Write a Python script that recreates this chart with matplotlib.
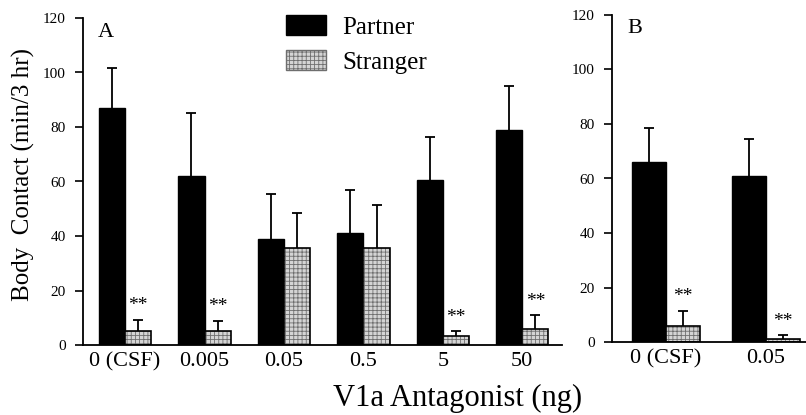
import numpy as np
import matplotlib
matplotlib.use("Agg")
import matplotlib.pyplot as plt
from matplotlib.patches import Patch

plt.rcParams['font.family'] = ['Liberation Serif', 'DejaVu Serif']
plt.rcParams['hatch.linewidth'] = 0.6

# panel A data
doses_a = ['0 (CSF)', '0.005', '0.05', '0.5', '5', '50']
partner_a = [87, 62, 39, 41, 60.5, 79]
partner_a_err = [14.5, 23, 16.5, 16, 16, 16]
stranger_a = [5, 5.2, 35.5, 35.5, 3.2, 6]
stranger_a_err = [4.3, 3.7, 12.8, 16, 1.8, 5]
sig_a = [True, True, False, False, True, True]

# panel B data
doses_b = ['0 (CSF)', '0.05']
partner_b = [66, 61]
partner_b_err = [12.5, 13.5]
stranger_b = [6, 1.2]
stranger_b_err = [5.5, 1.2]
sig_b = [True, True]

fig = plt.figure(figsize=(8.06, 4.15), dpi=100)
axA = fig.add_axes([83/806, 70/415, 479/806, 327/415])
axB = fig.add_axes([612/806, 73/415, 194/806, 327/415])

HATCH_FACE = '#d4d4d4'
HATCH_LINE = '#6e6e6e'


def up_err(ax, x, y, e):
    # only the upper half of the error bar, no cap at the bar top
    eb = ax.errorbar(x, y, yerr=[np.zeros(len(y)), e], fmt='none',
                     ecolor='black', elinewidth=1.3, capsize=3.5,
                     capthick=1.3)
    eb[1][0].set_visible(False)


def draw(ax, labels, p, pe, s, se, sig, w):
    x = np.arange(len(labels))
    ax.bar(x - w/2, p, w, color='black', edgecolor='black', linewidth=1)
    up_err(ax, x - w/2, p, pe)
    ax.bar(x + w/2, s, w, color=HATCH_FACE, edgecolor=HATCH_LINE,
           hatch='++++', linewidth=0)
    ax.bar(x + w/2, s, w, fill=False, edgecolor='black', linewidth=1.2)
    up_err(ax, x + w/2, s, se)
    for xi, si, ei, f in zip(x, s, se, sig):
        if f:
            ax.text(xi + w/2, si + ei + 2, '**', ha='center', va='bottom',
                    fontsize=14)
    ax.set_ylim(0, 120)
    ax.set_yticks(np.arange(0, 121, 20))
    ax.set_xticks(x)
    ax.set_xticklabels(labels, fontsize=16)
    ax.tick_params(axis='x', length=0, pad=5)
    ax.tick_params(axis='y', length=5.5, width=1.2, labelsize=11, pad=7)
    for sp in ['top', 'right']:
        ax.spines[sp].set_visible(False)
    for sp in ['left', 'bottom']:
        ax.spines[sp].set_linewidth(1.3)


draw(axA, doses_a, partner_a, partner_a_err, stranger_a, stranger_a_err,
     sig_a, 0.33)
axA.set_xlim(-0.53, 5.5)
draw(axB, doses_b, partner_b, partner_b_err, stranger_b, stranger_b_err,
     sig_b, 0.34)
axB.set_xlim(-0.54, 1.40)

axA.text(0.03, 0.955, 'A', transform=axA.transAxes, fontsize=16, va='center')
axB.text(0.08, 0.96, 'B', transform=axB.transAxes, fontsize=16, va='center')

axA.set_ylabel('Body  Contact (min/3 hr)', fontsize=18)
axA.yaxis.set_label_coords(-48/479, 0.52)
fig.text(458/806, 1 - 398/415, 'V1a Antagonist (ng)', fontsize=22,
         ha='center', va='center')

handles = [Patch(facecolor='black', edgecolor='black'),
           Patch(facecolor=HATCH_FACE, edgecolor=HATCH_LINE, hatch='++++')]
fig.legend(handles, ['Partner', 'Stranger'], loc='upper left',
           bbox_to_anchor=(286/806, 1 - 15/415), frameon=False, fontsize=18,
           handlelength=1.6, handleheight=0.85, handletextpad=0.65,
           labelspacing=0.45, borderpad=0, borderaxespad=0)

fig.savefig('out.png', dpi=100)
